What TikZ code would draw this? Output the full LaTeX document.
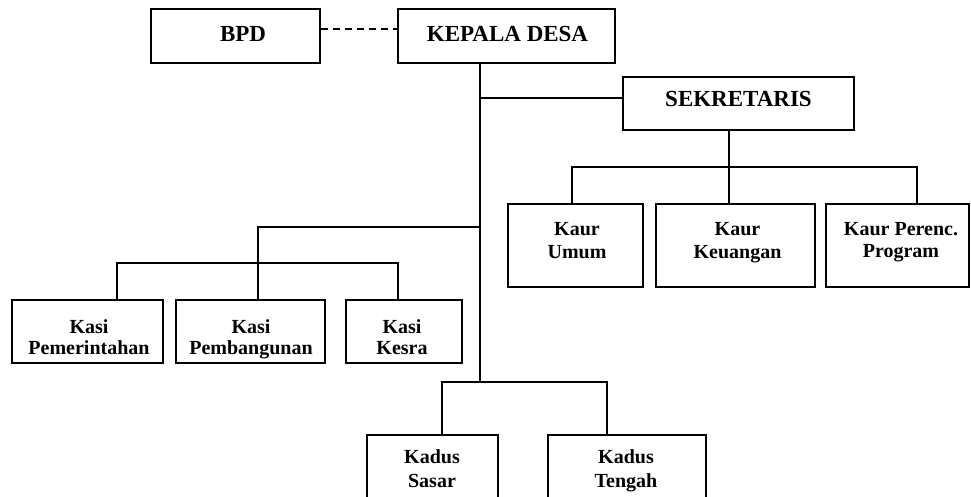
\documentclass[tikz,border=0pt]{standalone}
\usepackage{fontspec}
\setmainfont{Liberation Serif}
\newcommand\orgtwo[3]{\parbox[t]{200pt}{\centering\fontsize{20}{#3}\selectfont\bfseries #1\\#2}}
\begin{document}
\begin{tikzpicture}[x=1pt,y=-1pt,
  box/.style={draw,line width=1.6pt,inner sep=0pt},
  conn/.style={line width=1.5pt},
  dashconn/.style={line width=1.5pt,dash pattern=on 7pt off 5pt},
  toptxt/.style={anchor=base,inner sep=0pt,font=\fontsize{23}{26}\selectfont\bfseries},
  subtxt/.style={anchor=base,inner sep=0pt}]
\clip (0,0) rectangle (971,497);
\fill[white] (0,0) rectangle (971,497);
% boxes
\node[box,minimum width=169pt,minimum height=54pt] (bpd) at (235.5,36) {};
\node[box,minimum width=217pt,minimum height=54pt] (kd) at (506.5,36) {};
\node[box,minimum width=231pt,minimum height=53pt] (sek) at (738.5,103.5) {};
\node[box,minimum width=135pt,minimum height=83pt] (ku) at (575.5,245.5) {};
\node[box,minimum width=159pt,minimum height=83pt] (kk) at (735.5,245.5) {};
\node[box,minimum width=143pt,minimum height=83pt] (kp) at (897.5,245.5) {};
\node[box,minimum width=151pt,minimum height=63pt] (ks1) at (87.5,331.5) {};
\node[box,minimum width=149pt,minimum height=63pt] (ks2) at (250.5,331.5) {};
\node[box,minimum width=116pt,minimum height=63pt] (ks3) at (404,331.5) {};
\node[box,minimum width=131pt,minimum height=75pt] (kd1) at (432.5,472.5) {};
\node[box,minimum width=158pt,minimum height=75pt] (kd2) at (627,472.5) {};
% texts
\node[toptxt] (tbpd) at (243,42) {BPD};
\node[toptxt] (tkd) at (507.5,42) {KEPALA DESA};
\node[toptxt] (tsek) at (738.5,107) {SEKRETARIS};
\node[subtxt] (tku) at (577,235) {\orgtwo{Kaur}{Umum}{23}};
\node[subtxt] (tkk) at (737.5,235) {\orgtwo{Kaur}{Keuangan}{23}};
\node[subtxt] (tkp) at (901,235) {\orgtwo{Kaur Perenc.}{Program}{22}};
\node[subtxt] (tks1) at (89,333) {\orgtwo{Kasi}{Pemerintahan}{21.5}};
\node[subtxt] (tks2) at (251,333) {\orgtwo{Kasi}{Pembangunan}{21.5}};
\node[subtxt] (tks3) at (402,333) {\orgtwo{Kasi}{Kesra}{21.5}};
\node[subtxt] (tkd1) at (432,463) {\orgtwo{Kadus}{Sasar}{24}};
\node[subtxt] (tkd2) at (626,463) {\orgtwo{Kadus}{Tengah}{24}};
% junction coordinates
\coordinate (dy) at (0,29);
\coordinate (c1) at (480,98);
\coordinate (c2) at (480,227);
\coordinate (c3) at (480,382);
\coordinate (s1) at (729,167);
\coordinate (ka) at (572,167);
\coordinate (kc) at (917,167);
\coordinate (k2) at (258,227);
\coordinate (kl) at (117,263);
\coordinate (kr) at (398,263);
\coordinate (dl) at (442,382);
\coordinate (dr) at (607,382);
% connectors
\draw[dashconn] (bpd.east |- dy) -- (kd.west |- dy);
\draw[conn] (kd.south -| c1) -- (c3);
\draw[conn] (c1) -- (c1 -| sek.west);
\draw[conn] (sek.south -| s1) -- (s1 |- kk.north);
\draw[conn] (ka |- ku.north) -- (ka) -- (kc) -- (kc |- kp.north);
\draw[conn] (c2) -- (k2) -- (k2 |- ks2.north);
\draw[conn] (kl |- ks1.north) -- (kl) -- (kr) -- (kr |- ks3.north);
\draw[conn] (dl |- kd1.north) -- (dl) -- (dr) -- (dr |- kd2.north);
\end{tikzpicture}
\end{document}
